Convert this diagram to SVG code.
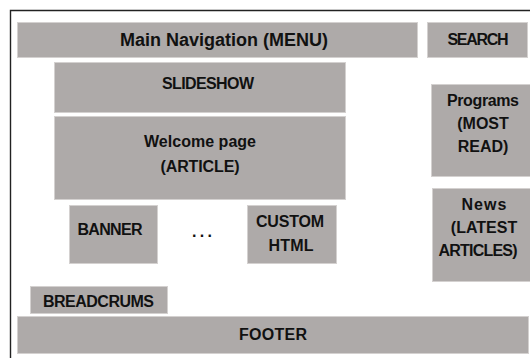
<svg xmlns="http://www.w3.org/2000/svg" width="530" height="358" viewBox="0 0 530 358">
<style>
.box{fill:#aeaaa9;stroke:#d4d1d0;stroke-width:1}
.t{font-family:"Liberation Sans",Arial,sans-serif;font-weight:bold;font-size:16px;fill:#111;text-anchor:middle}
.big{font-size:18px}
</style>
<rect width="530" height="358" fill="#ffffff"/>
<path d="M10.5,358 V10.5 H530" fill="none" stroke="#222" stroke-width="1.4"/>
<g id="nav"><rect class="box" x="17.5" y="22.5" width="400" height="35"/><text class="t big" x="224" y="46" textLength="208">Main Navigation (MENU)</text></g>
<g id="search"><rect class="box" x="427.5" y="22.5" width="100" height="35"/><text class="t" x="478" y="45" textLength="61">SEARCH</text></g>
<g id="slideshow"><rect class="box" x="54.5" y="62.5" width="291" height="50"/><text class="t" x="208" y="88.5" textLength="92">SLIDESHOW</text></g>
<g id="welcome"><rect class="box" x="54.5" y="116.5" width="291" height="83"/><text class="t" x="200" y="146.5" textLength="112">Welcome page</text><text class="t" x="200" y="172" textLength="79">(ARTICLE)</text></g>
<g id="programs"><rect class="box" x="431.5" y="84.5" width="99" height="92"/><text class="t" x="483" y="106" textLength="72">Programs</text><text class="t" x="483" y="129">(MOST</text><text class="t" x="483" y="152">READ)</text></g>
<g id="banner"><rect class="box" x="69.5" y="205.5" width="88" height="58"/><text class="t" x="110" y="235" textLength="65">BANNER</text></g>
<g id="dots"><text class="t" x="202" y="237" textLength="20">...</text></g>
<g id="custom"><rect class="box" x="247.5" y="205.5" width="89" height="58"/><text class="t" x="290" y="227" textLength="68">CUSTOM</text><text class="t" x="291" y="251" textLength="45">HTML</text></g>
<g id="news"><rect class="box" x="432.5" y="188.5" width="98" height="93"/><text class="t" x="484" y="210" textLength="45">News</text><text class="t" x="484" y="233">(LATEST</text><text class="t" x="478" y="256" textLength="79">ARTICLES)</text></g>
<g id="breadcrums"><rect class="box" x="30.5" y="286.5" width="137" height="27"/><text class="t" x="98.5" y="307" textLength="111">BREADCRUMS</text></g>
<g id="footer"><rect class="box" x="17.5" y="316.5" width="511" height="37"/><text class="t" x="273" y="340" textLength="68">FOOTER</text></g>
<g id="connectors"></g>
</svg>
